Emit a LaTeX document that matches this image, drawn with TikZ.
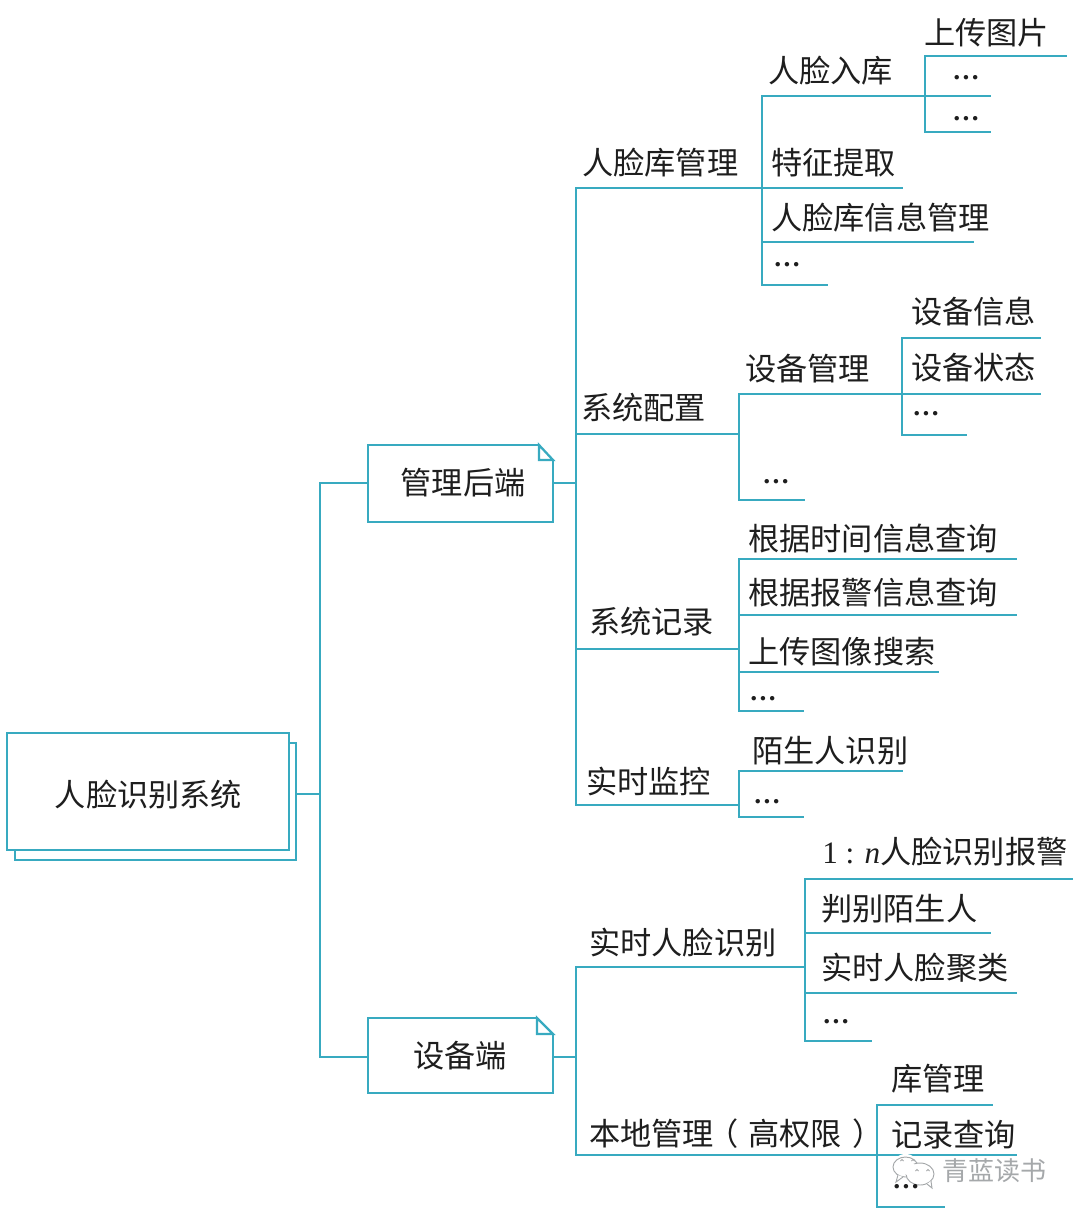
\documentclass[tikz,border=0pt]{standalone}
\usepackage{fontspec}
\setmainfont{Noto Sans CJK SC}
\newfontfamily\latserif{Liberation Serif}
\definecolor{teal}{RGB}{56,170,192}
\definecolor{ink}{RGB}{30,30,30}
\definecolor{wm}{RGB}{165,168,170}
\tikzset{
  link/.style={draw=teal,line width=1.7pt,line cap=rect},
  lab/.style={text=ink,inner sep=0pt,anchor=west,xshift=-0.75pt,yshift=-0.75pt,font=\fontsize{23.4pt}{26pt}\selectfont},
  dotlab/.style={text=ink,inner sep=0pt,anchor=west,font=\latserif\bfseries\fontsize{20.5pt}{26pt}\selectfont},
  boxs/.style={draw=teal,line width=1.7pt,fill=white,inner sep=0pt},
  wmline/.style={draw=wm,line width=0.7pt},
}
% label + its underline: name, text x, text y, text, trunk x, line y, end x
\newcommand{\lf}[7]{%
  \node[lab] (#1) at (#2,#3) {#4};
  \coordinate (#1-s) at (#5,#6);
  \coordinate (#1-e) at (#7,#6);
  \draw[link] (#1-s) -- (#1-e);
}
\newcommand{\df}[6]{%
  \node[dotlab] (#1) at (#2,#3) {…};
  \coordinate (#1-s) at (#4,#5);
  \coordinate (#1-e) at (#6,#5);
  \draw[link] (#1-s) -- (#1-e);
}
\begin{document}
\begin{tikzpicture}[x=0.75pt,y=-0.75pt]
\useasboundingbox (0,0) rectangle (1080,1218);
\fill[white] (0,0) rectangle (1080,1218);

% root
\node[boxs,minimum width=281*0.75pt,minimum height=117*0.75pt] (rootback) at (155.5,801.5) {};
\node[boxs,minimum width=282*0.75pt,minimum height=117*0.75pt] (root) at (148,791.5) {};
\node[lab,anchor=center] (roottext) at (149.5,794) {人脸识别系统};

% first level boxes
\node[boxs,minimum width=185*0.75pt,minimum height=77*0.75pt] (mgr) at (460.5,483.5) {};
\node[lab,anchor=center] (mgrtext) at (464,482) {管理后端};
\coordinate (mgrf1) at (539,445);
\coordinate (mgrf2) at (539,460);
\coordinate (mgrf3) at (553,460);
\fill[white] (540,443) rectangle (556,459);
\draw[link,line cap=butt,line join=miter] (mgrf1) -- (mgrf2) -- (mgrf3) -- cycle;

\node[boxs,minimum width=185*0.75pt,minimum height=75*0.75pt] (dev) at (460.5,1055.5) {};
\node[lab,anchor=center] (devtext) at (461,1055) {设备端};
\coordinate (devf1) at (537,1018);
\coordinate (devf2) at (537,1034);
\coordinate (devf3) at (553,1034);
\fill[white] (538,1016) rectangle (556,1033);
\draw[link,line cap=butt,line join=miter] (devf1) -- (devf2) -- (devf3) -- cycle;

% trunk from root
\coordinate (t0) at (320,794);
\coordinate (t0a) at (320,483);
\coordinate (t0b) at (320,1057);
\draw[link] (rootback.east |- t0) -- (t0);
\draw[link] (t0a) -- (t0b);
\draw[link] (t0a) -- (mgr.west |- t0a);
\draw[link] (t0b) -- (dev.west |- t0b);

% trunk of management
\coordinate (t1a) at (576,483);
\coordinate (t2a) at (576,1057);
\draw[link] (mgr.east |- t1a) -- (t1a);
\draw[link] (dev.east |- t2a) -- (t2a);

% second level
\lf{faceLib}{583}{162}{人脸库管理}{576}{188}{762}
\lf{sysCfg}{582}{407}{系统配置}{576}{434}{739}
\lf{sysRec}{590}{621}{系统记录}{576}{649}{739}
\lf{rtMon}{587}{780}{实时监控}{576}{805}{739}
\draw[link] (faceLib-s) -- (rtMon-s);

\lf{rtFace}{590}{942}{实时人脸识别}{576}{967}{805}
\lf{local}{590}{1133}{本地管理\hspace{-5pt}（\hspace{7.5pt}高权限\hspace{8pt}）}{576}{1155}{877}
\draw[link] (rtFace-s) -- (local-s);

% face library
\lf{faceIn}{769}{70}{人脸入库}{762}{96}{925}
\lf{feat}{772}{162}{特征提取}{762}{188}{902}
\lf{libInfo}{772}{217}{人脸库信息管理}{762}{242}{973}
\df{libMore}{773}{265}{762}{285}{827}
\draw[link] (faceIn-s) -- (libMore-s);

\lf{upPic}{925}{32}{上传图片}{925}{56}{1066}
\df{inA}{952}{78}{925}{96}{990}
\df{inB}{952}{119}{925}{132}{990}
\draw[link] (upPic-s) -- (inB-s);

% system configuration
\lf{devMgr}{746}{368}{设备管理}{739}{394}{902}
\df{cfgMore}{762}{482}{739}{500}{804}
\draw[link] (devMgr-s) -- (cfgMore-s);

\lf{devInfo}{912}{311}{设备信息}{902}{338}{1040}
\lf{devStat}{912}{367}{设备状态}{902}{394}{1040}
\df{devMore}{912}{414}{902}{435}{966}
\draw[link] (devInfo-s) -- (devMore-s);

% system records
\lf{qTime}{749}{538}{根据时间信息查询}{739}{559}{1016}
\lf{qAlarm}{749}{592}{根据报警信息查询}{739}{615}{1016}
\lf{qImg}{749}{651}{上传图像搜索}{739}{672}{938}
\df{qMore}{749}{699}{739}{711}{803}
\draw[link] (qTime-s) -- (qMore-s);

% realtime monitoring
\lf{stranger}{753}{750}{陌生人识别}{739}{771}{902}
\df{monMore}{753}{802}{739}{817}{803}
\draw[link] (stranger-s) -- (monMore-s);

% realtime face recognition
\lf{alarm}{823}{851}{{\latserif 1 : \textit{n}}人脸识别报警}{805}{879}{1072}
\lf{judge}{822}{908}{判别陌生人}{805}{933}{990}
\lf{cluster}{822}{967}{实时人脸聚类}{805}{993}{1016}
\df{rtMore}{822}{1022}{805}{1041}{871}
\draw[link] (alarm-s) -- (rtMore-s);

% local management
\lf{libM}{892}{1078}{库管理}{877}{1105}{992}
\lf{recQ}{892}{1134}{记录查询}{877}{1155}{1016}
\coordinate (locMore-s) at (877,1207);
\coordinate (locMore-e) at (944,1207);
\draw[link] (locMore-s) -- (locMore-e);
\draw[link] (libM-s) -- (locMore-s);

% watermark
\fill[white] (905.5,1166) ellipse (13.5 and 12);
\draw[wmline,fill=white] (905.5,1167) ellipse (12.5 and 10);
\draw[wmline,fill=white] (898,1175) -- (896,1182) -- (903,1177);
\draw[wmline,fill=white] (920,1174) ellipse (14 and 11);
\draw[wmline,fill=white] (927,1184) -- (932,1188) -- (931,1181);
\fill[white] (912,1170) ellipse (9 and 6);
\draw[wmline] (900.5,1161) -- (902,1159.5) -- (903.5,1161);
\draw[wmline] (911.5,1161) -- (913,1159.5) -- (914.5,1161);
\draw[wmline] (915.5,1171) -- (917,1169.5) -- (918.5,1171);
\draw[wmline] (926.5,1171) -- (928,1169.5) -- (929.5,1171);
\node[text=wm,inner sep=0pt,anchor=west,font=\fontsize{19.5pt}{22pt}\selectfont] (wmtext) at (942,1171) {青蓝读书};
\node[dotlab] (locMore) at (892,1187) {…};
\end{tikzpicture}
\end{document}
